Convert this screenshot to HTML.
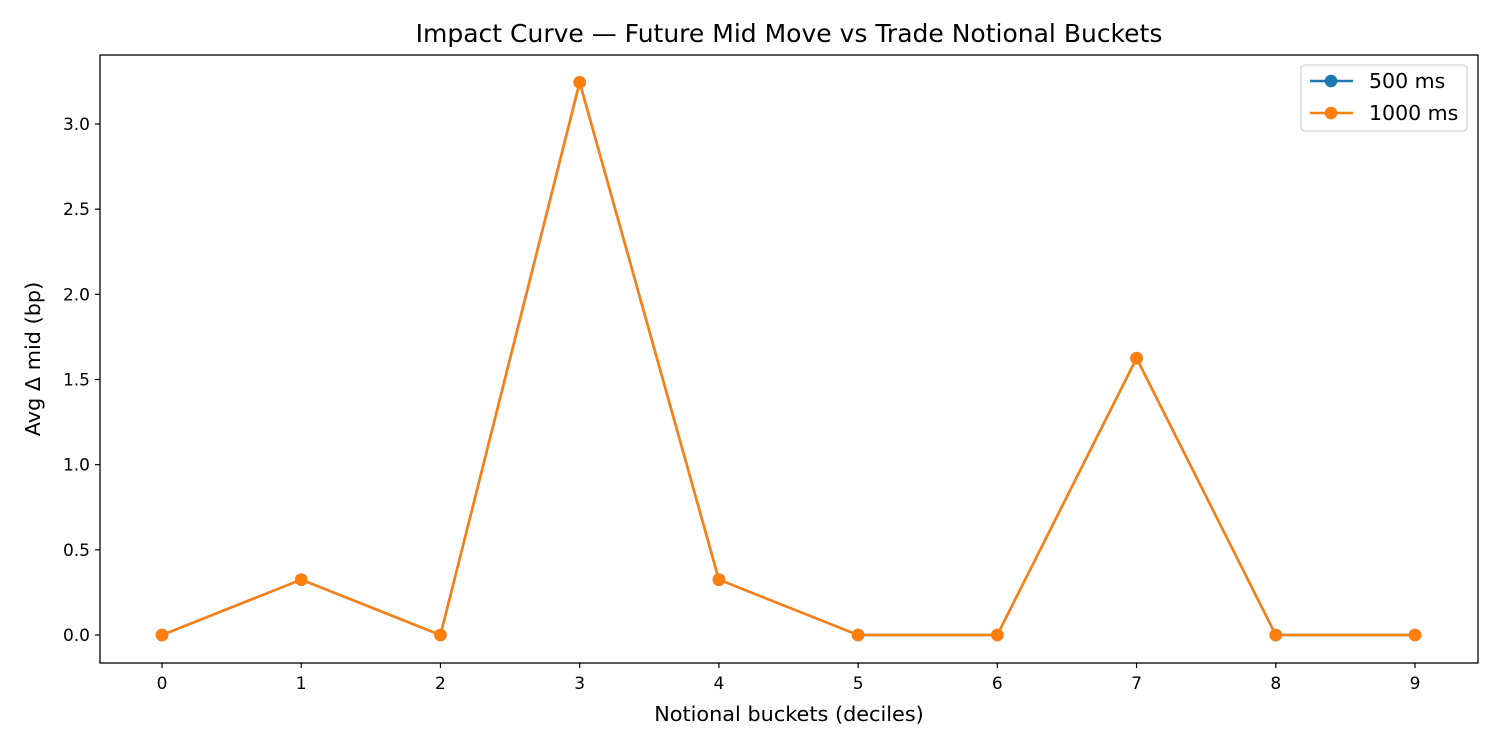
<!DOCTYPE html>
<html><head><meta charset="utf-8"><style>
body{margin:0;background:#fff}
svg{display:block;font-family:"DejaVu Sans","Liberation Sans",sans-serif}
</style></head><body>
<svg id="chart" width="1500" height="750">
<rect x="0" y="0" width="1500" height="750" fill="#fff"/>
<text x="789" y="42" font-size="25" text-anchor="middle">Impact Curve — Future Mid Move vs Trade Notional Buckets</text>
<g id="axes"></g>
<g id="series"></g>
<rect x="100" y="55" width="1378" height="608" fill="none" stroke="#000" stroke-width="1.3"/>
<text x="789" y="721" font-size="20.8" text-anchor="middle">Notional buckets (deciles)</text>
<text transform="translate(40,359) rotate(-90)" font-size="20.8" text-anchor="middle">Avg Δ mid (bp)</text>
<g>
<rect x="1301" y="65" width="166" height="66" rx="4" fill="#fff" stroke="#d6d6d6" stroke-width="1.3"/>
<g>
<line x1="1310" y1="81" x2="1353" y2="81" stroke="#1f77b4" stroke-width="2.5"/>
<circle cx="1331" cy="81" r="6.3" fill="#1f77b4"/>
<text x="1369" y="88" font-size="20.5">500 ms</text></g>
<g>
<line x1="1310" y1="113" x2="1353" y2="113" stroke="#ff7f0e" stroke-width="2.5"/>
<circle cx="1331" cy="113" r="6.3" fill="#ff7f0e"/>
<text x="1369" y="120" font-size="20.5">1000 ms</text></g>
</g>
</svg>
<script>
const categories=[0,1,2,3,4,5,6,7,8,9];
const series500=[0,0.325,0,3.245,0.325,0,0,1.625,0,0];
const series1000=[0,0.325,0,3.245,0.325,0,0,1.625,0,0];
const yTicks=[0,0.5,1,1.5,2,2.5,3];
const yTickLabels=["0.0","0.5","1.0","1.5","2.0","2.5","3.0"];

const NS="http://www.w3.org/2000/svg";
function xs(v){return 162+(1415-162)*v/9;}
function ys(v){return 635-(635-124)*v/3;}
function mk(tag,attrs,parent){const e=document.createElementNS(NS,tag);for(const k in attrs)e.setAttribute(k,attrs[k]);parent.appendChild(e);return e;}
const axes=document.getElementById('axes');
categories.forEach(c=>{
  const g=mk('g',{},axes);
  
  
  mk('line',{x1:xs(c),x2:xs(c),y1:663,y2:668,stroke:'#000','stroke-width':1.2},g);
  const t=mk('text',{x:xs(c),y:689,'font-size':17,'text-anchor':'middle'},g);t.textContent=c;
});
yTicks.forEach((v,i)=>{
  const g=mk('g',{},axes);
  
  
  mk('line',{x1:95,x2:100,y1:ys(v),y2:ys(v),stroke:'#000','stroke-width':1.2},g);
  const t=mk('text',{x:90,y:ys(v)+6,'font-size':17,'text-anchor':'end'},g);t.textContent=yTickLabels[i];
});
const sg=document.getElementById('series');
function draw(vals,color,name){
  const g=mk('g',{},sg);
  
  
  mk('polyline',{points:vals.map((v,i)=>xs(categories[i])+','+ys(v)).join(' '),fill:'none',stroke:color,'stroke-width':2.5,'stroke-linejoin':'round'},g);
  vals.forEach((v,i)=>{
    const c=mk('circle',{cx:xs(categories[i]),cy:ys(v),r:6.3,fill:color},g);
    
    
  });
}
draw(series500,'#1f77b4','series-500ms');
draw(series1000,'#ff7f0e','series-1000ms');
</script>
</body></html>
